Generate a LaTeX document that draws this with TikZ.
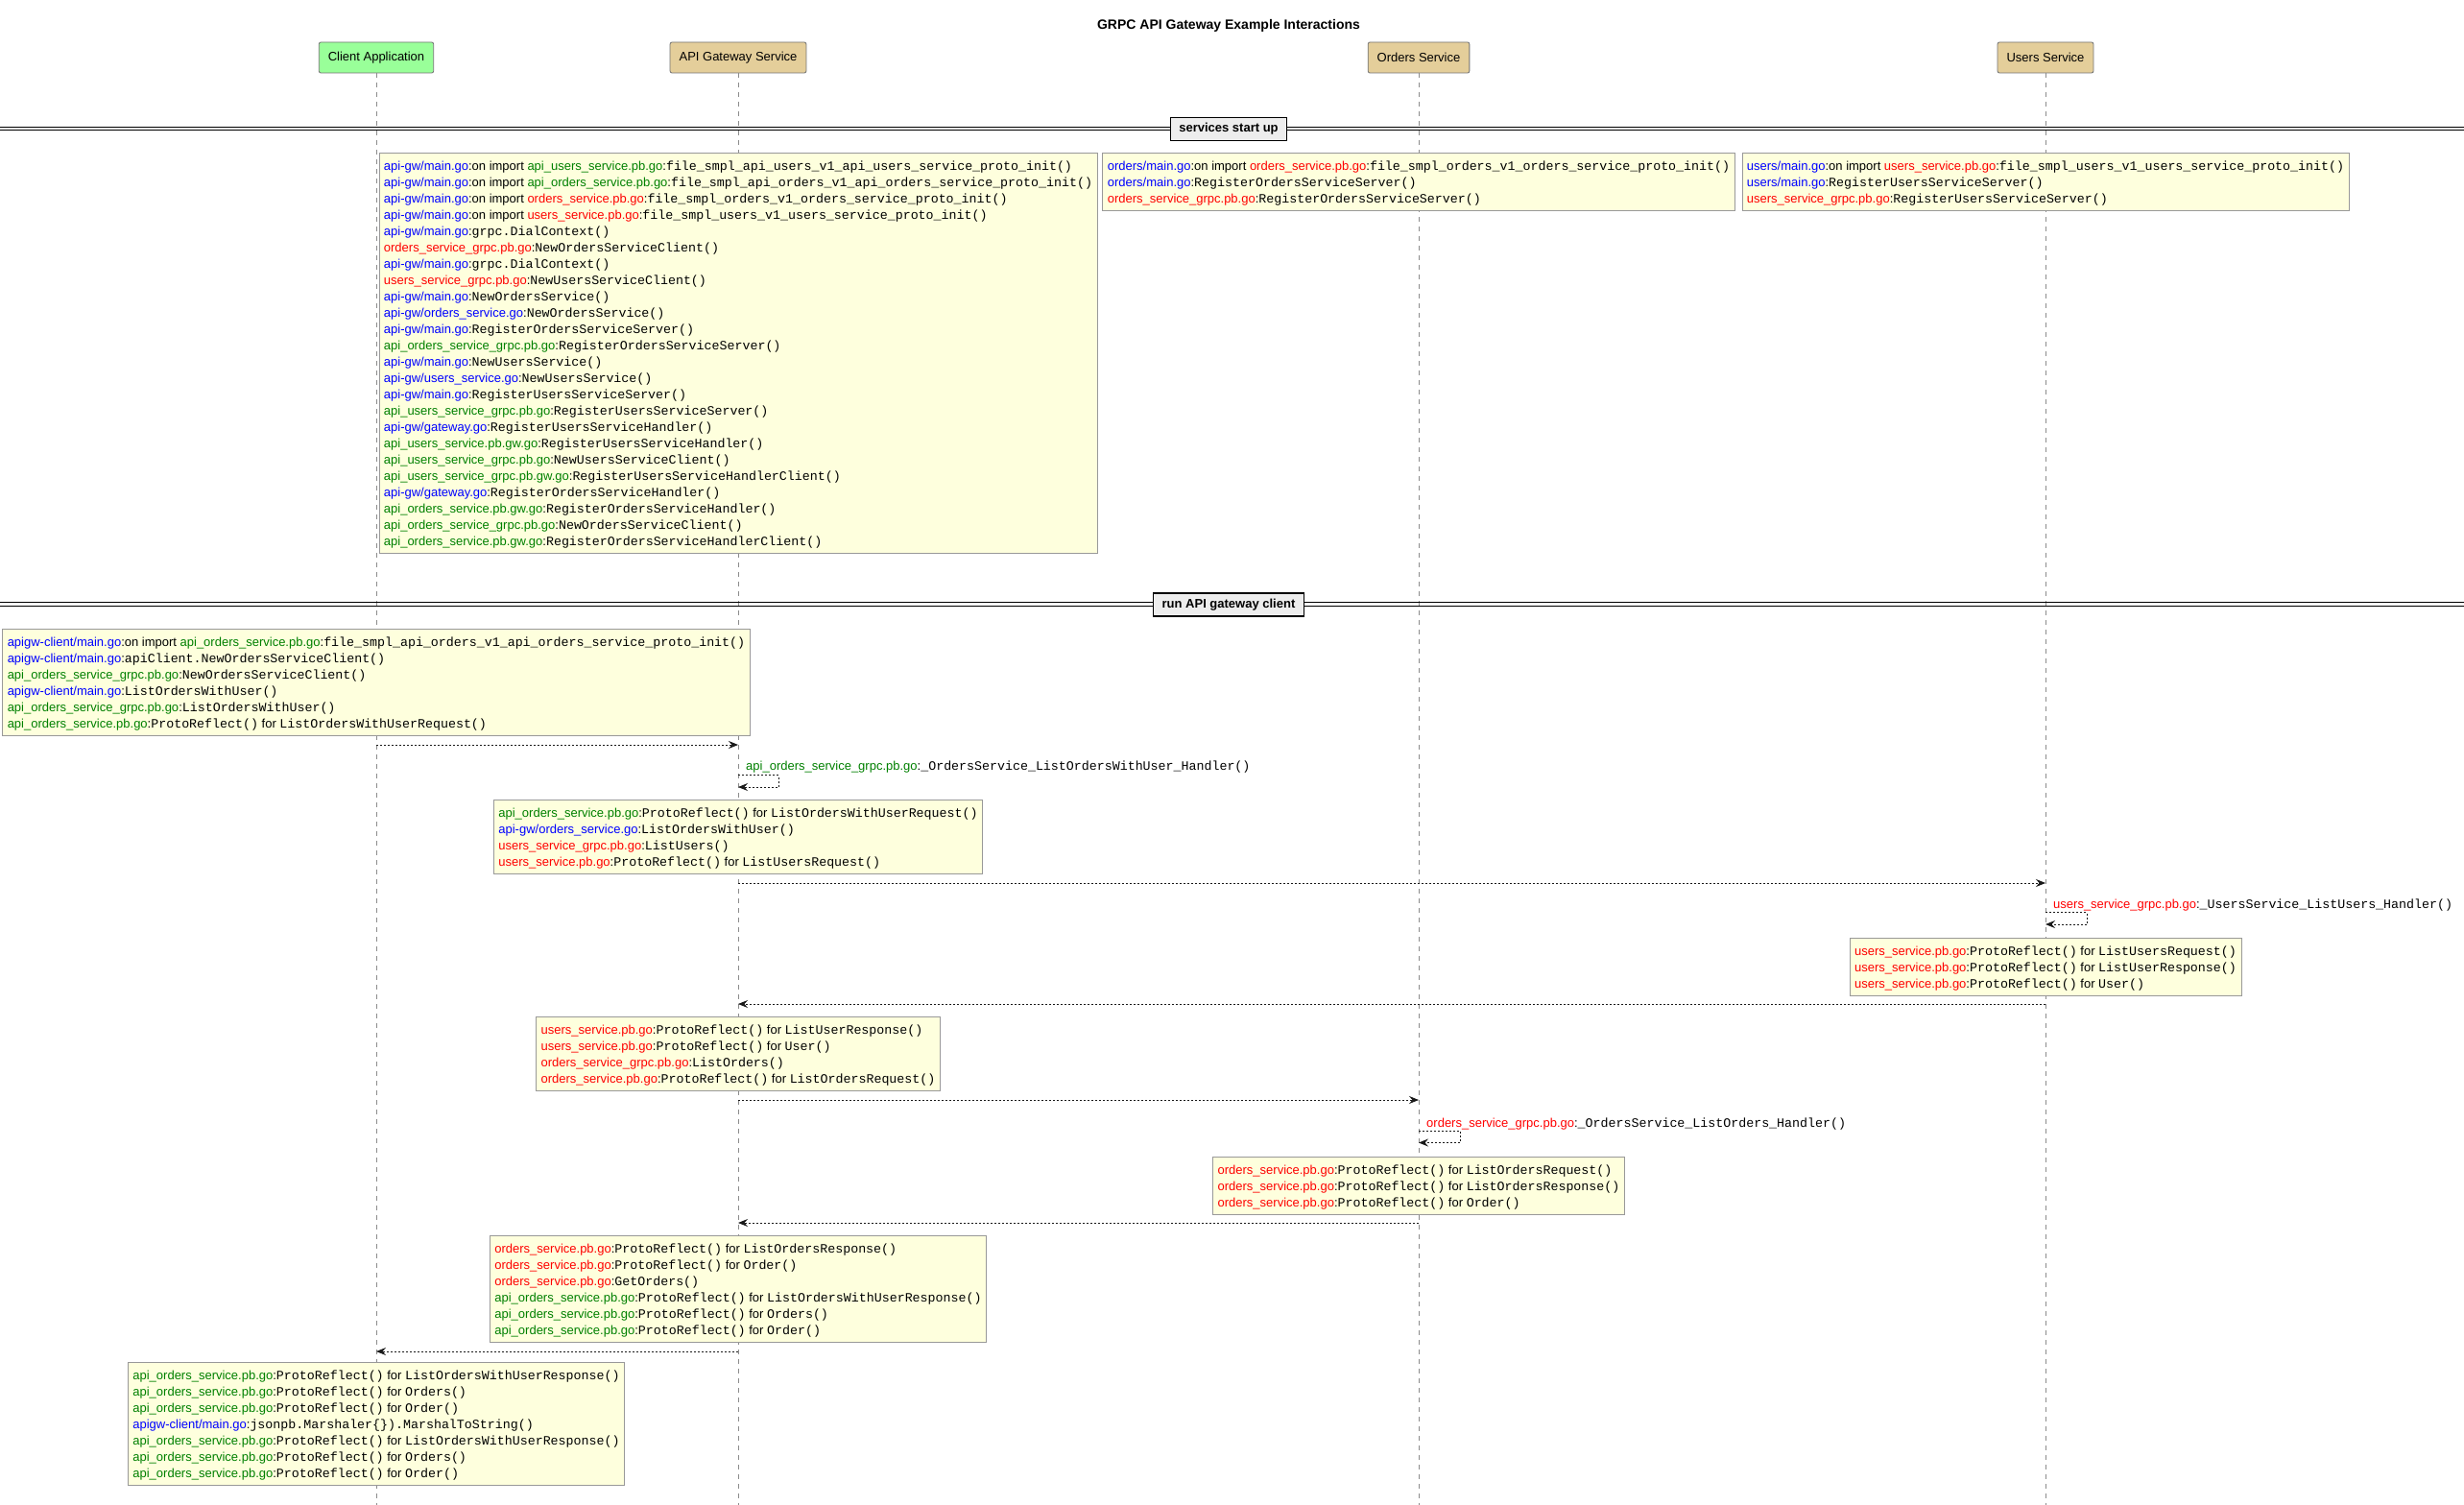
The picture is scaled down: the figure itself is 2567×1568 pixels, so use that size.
\documentclass[tikz,border=0pt]{standalone}
\usepackage{fontspec}
\setmainfont{Liberation Sans}
\setmonofont{Liberation Mono}
\usetikzlibrary{arrows.meta}

\definecolor{fblue}{HTML}{0000FF}
\definecolor{fgreen}{HTML}{008000}
\definecolor{fred}{HTML}{FF0000}
\definecolor{notefill}{HTML}{FEFFDD}
\definecolor{clientfill}{HTML}{99FF99}
\definecolor{svcfill}{HTML}{E4CE9A}

% a line strut: 17pt tall, baseline 3.1pt above its bottom
\newcommand\rowstrut{\rule[-3.1pt]{0pt}{17pt}}
% file names in colour, code in monospace
\newcommand\fB[1]{\rowstrut\textcolor{fblue}{#1}}
\newcommand\fG[1]{\rowstrut\textcolor{fgreen}{#1}}
\newcommand\fR[1]{\rowstrut\textcolor{fred}{#1}}
\newcommand\fC[1]{{\fontsize{13.3}{17}\selectfont\ttfamily #1}}

\tikzset{
  notebox/.style={draw=black!40, fill=notefill, line width=0.8pt, inner xsep=5pt,
    inner ysep=4.5pt, align=left, anchor=north, font=\fontsize{13}{17}\selectfont},
  partbox/.style={draw=black!55, line width=0.8pt, rounded corners=2pt, minimum height=32pt,
    inner xsep=9.5pt, font=\fontsize{13}{16}\selectfont},
  lifeline/.style={draw=black!45, line width=0.9pt, dash pattern=on 5pt off 5pt},
  msg/.style={draw=black!90, line width=0.9pt, dash pattern=on 2pt off 2pt,
    -{Stealth[length=10pt,width=8pt,inset=3.5pt]}},
  selflabel/.style={anchor=west, inner sep=0pt, font=\fontsize{13}{17}\selectfont},
  divbox/.style={draw=black, line width=1.3pt, fill=black!7, minimum height=24pt,
    inner xsep=9pt, font=\bfseries\fontsize{13}{16}\selectfont},
  divline/.style={draw=black, line width=0.9pt}
}

\begin{document}
\begin{tikzpicture}[x=1pt, y=-1pt]
\useasboundingbox (0,0) rectangle (2567,1568);
\fill[white] (0,0) rectangle (2567,1568);

% title
\node[font=\bfseries\fontsize{14}{17}\selectfont] (title) at (1280,27) {GRPC API Gateway Example Interactions};

% participants
\node[partbox, fill=clientfill] (client) at (392,60) {Client Application};
\node[partbox, fill=svcfill] (gw) at (769,60) {API Gateway Service};
\node[partbox, fill=svcfill] (orders) at (1478,60) {Orders Service};
\node[partbox, fill=svcfill] (users) at (2131,60) {Users Service};

\coordinate (clientEnd) at (392,1568);
\coordinate (gwEnd) at (769,1568);
\coordinate (ordersEnd) at (1478,1568);
\coordinate (usersEnd) at (2131,1568);

\draw[lifeline] (client.south) -- (clientEnd);
\draw[lifeline] (gw.south) -- (gwEnd);
\draw[lifeline] (orders.south) -- (ordersEnd);
\draw[lifeline] (users.south) -- (usersEnd);

% section dividers
\coordinate (d1l) at (0,133.8);
\coordinate (d1r) at (2567,133.8);
\draw[divline] ([yshift=-1.6pt]d1l) -- ([yshift=-1.6pt]d1r);
\draw[divline] ([yshift=1.6pt]d1l) -- ([yshift=1.6pt]d1r);
\node[divbox] (sec1) at (1280,134.3) {services start up};

\coordinate (d2l) at (0,629.5);
\coordinate (d2r) at (2567,629.5);
\draw[divline] ([yshift=-1.6pt]d2l) -- ([yshift=-1.6pt]d2r);
\draw[divline] ([yshift=1.6pt]d2l) -- ([yshift=1.6pt]d2r);
\node[divbox] (sec2) at (1280,630) {run API gateway client};

% start-up notes
\node[notebox] (nGwStart) at (769,159) {%
\fB{api-gw/main.go}:on import \fG{api\_users\_service.pb.go}:\fC{file\_smpl\_api\_users\_v1\_api\_users\_service\_proto\_init()}\\
\fB{api-gw/main.go}:on import \fG{api\_orders\_service.pb.go}:\fC{file\_smpl\_api\_orders\_v1\_api\_orders\_service\_proto\_init()}\\
\fB{api-gw/main.go}:on import \fR{orders\_service.pb.go}:\fC{file\_smpl\_orders\_v1\_orders\_service\_proto\_init()}\\
\fB{api-gw/main.go}:on import \fR{users\_service.pb.go}:\fC{file\_smpl\_users\_v1\_users\_service\_proto\_init()}\\
\fB{api-gw/main.go}:\fC{grpc.DialContext()}\\
\fR{orders\_service\_grpc.pb.go}:\fC{NewOrdersServiceClient()}\\
\fB{api-gw/main.go}:\fC{grpc.DialContext()}\\
\fR{users\_service\_grpc.pb.go}:\fC{NewUsersServiceClient()}\\
\fB{api-gw/main.go}:\fC{NewOrdersService()}\\
\fB{api-gw/orders\_service.go}:\fC{NewOrdersService()}\\
\fB{api-gw/main.go}:\fC{RegisterOrdersServiceServer()}\\
\fG{api\_orders\_service\_grpc.pb.go}:\fC{RegisterOrdersServiceServer()}\\
\fB{api-gw/main.go}:\fC{NewUsersService()}\\
\fB{api-gw/users\_service.go}:\fC{NewUsersService()}\\
\fB{api-gw/main.go}:\fC{RegisterUsersServiceServer()}\\
\fG{api\_users\_service\_grpc.pb.go}:\fC{RegisterUsersServiceServer()}\\
\fB{api-gw/gateway.go}:\fC{RegisterUsersServiceHandler()}\\
\fG{api\_users\_service.pb.gw.go}:\fC{RegisterUsersServiceHandler()}\\
\fG{api\_users\_service\_grpc.pb.go}:\fC{NewUsersServiceClient()}\\
\fG{api\_users\_service\_grpc.pb.gw.go}:\fC{RegisterUsersServiceHandlerClient()}\\
\fB{api-gw/gateway.go}:\fC{RegisterOrdersServiceHandler()}\\
\fG{api\_orders\_service.pb.gw.go}:\fC{RegisterOrdersServiceHandler()}\\
\fG{api\_orders\_service\_grpc.pb.go}:\fC{NewOrdersServiceClient()}\\
\fG{api\_orders\_service.pb.gw.go}:\fC{RegisterOrdersServiceHandlerClient()}};

\node[notebox] (nOrdersStart) at (1478,159) {%
\fB{orders/main.go}:on import \fR{orders\_service.pb.go}:\fC{file\_smpl\_orders\_v1\_orders\_service\_proto\_init()}\\
\fB{orders/main.go}:\fC{RegisterOrdersServiceServer()}\\
\fR{orders\_service\_grpc.pb.go}:\fC{RegisterOrdersServiceServer()}};

\node[notebox] (nUsersStart) at (2131,159) {%
\fB{users/main.go}:on import \fR{users\_service.pb.go}:\fC{file\_smpl\_users\_v1\_users\_service\_proto\_init()}\\
\fB{users/main.go}:\fC{RegisterUsersServiceServer()}\\
\fR{users\_service\_grpc.pb.go}:\fC{RegisterUsersServiceServer()}};

% client run
\node[notebox] (nClientStart) at (392,655) {%
\fB{apigw-client/main.go}:on import \fG{api\_orders\_service.pb.go}:\fC{file\_smpl\_api\_orders\_v1\_api\_orders\_service\_proto\_init()}\\
\fB{apigw-client/main.go}:\fC{apiClient.NewOrdersServiceClient()}\\
\fG{api\_orders\_service\_grpc.pb.go}:\fC{NewOrdersServiceClient()}\\
\fB{apigw-client/main.go}:\fC{ListOrdersWithUser()}\\
\fG{api\_orders\_service\_grpc.pb.go}:\fC{ListOrdersWithUser()}\\
\fG{api\_orders\_service.pb.go}:\fC{ProtoReflect()} for \fC{ListOrdersWithUserRequest()}};

% client -> gateway
\coordinate (m1a) at (392,776);
\coordinate (m1b) at (769,776);
\draw[msg] (m1a) -- (m1b);

% gateway handler (self call)
\coordinate (s1a) at (769,807.5);
\coordinate (s1b) at (769,820);
\draw[msg] (s1a) -- ++(42,0) |- (s1b);
\node[selflabel] (s1lab) at (777,797) {\fG{api\_orders\_service\_grpc.pb.go}:\fC{\_OrdersService\_ListOrdersWithUser\_Handler()}};

\node[notebox] (nGwReq) at (769,833) {%
\fG{api\_orders\_service.pb.go}:\fC{ProtoReflect()} for \fC{ListOrdersWithUserRequest()}\\
\fB{api-gw/orders\_service.go}:\fC{ListOrdersWithUser()}\\
\fR{users\_service\_grpc.pb.go}:\fC{ListUsers()}\\
\fR{users\_service.pb.go}:\fC{ProtoReflect()} for \fC{ListUsersRequest()}};

% gateway -> users
\coordinate (m2a) at (769,920);
\coordinate (m2b) at (2131,920);
\draw[msg] (m2a) -- (m2b);

\coordinate (s2a) at (2131,950.5);
\coordinate (s2b) at (2131,963);
\draw[msg] (s2a) -- ++(43,0) |- (s2b);
\node[selflabel] (s2lab) at (2139,941) {\fR{users\_service\_grpc.pb.go}:\fC{\_UsersService\_ListUsers\_Handler()}};

\node[notebox] (nUsersReq) at (2131,977) {%
\fR{users\_service.pb.go}:\fC{ProtoReflect()} for \fC{ListUsersRequest()}\\
\fR{users\_service.pb.go}:\fC{ProtoReflect()} for \fC{ListUserResponse()}\\
\fR{users\_service.pb.go}:\fC{ProtoReflect()} for \fC{User()}};

% users -> gateway
\coordinate (m3a) at (2131,1046);
\coordinate (m3b) at (769,1046);
\draw[msg] (m3a) -- (m3b);

\node[notebox] (nGwUsers) at (769,1059) {%
\fR{users\_service.pb.go}:\fC{ProtoReflect()} for \fC{ListUserResponse()}\\
\fR{users\_service.pb.go}:\fC{ProtoReflect()} for \fC{User()}\\
\fR{orders\_service\_grpc.pb.go}:\fC{ListOrders()}\\
\fR{orders\_service.pb.go}:\fC{ProtoReflect()} for \fC{ListOrdersRequest()}};

% gateway -> orders
\coordinate (m4a) at (769,1146);
\coordinate (m4b) at (1478,1146);
\draw[msg] (m4a) -- (m4b);

\coordinate (s3a) at (1478,1178);
\coordinate (s3b) at (1478,1190.5);
\draw[msg] (s3a) -- ++(43,0) |- (s3b);
\node[selflabel] (s3lab) at (1486,1169) {\fR{orders\_service\_grpc.pb.go}:\fC{\_OrdersService\_ListOrders\_Handler()}};

\node[notebox] (nOrdersReq) at (1478,1205) {%
\fR{orders\_service.pb.go}:\fC{ProtoReflect()} for \fC{ListOrdersRequest()}\\
\fR{orders\_service.pb.go}:\fC{ProtoReflect()} for \fC{ListOrdersResponse()}\\
\fR{orders\_service.pb.go}:\fC{ProtoReflect()} for \fC{Order()}};

% orders -> gateway
\coordinate (m5a) at (1478,1274);
\coordinate (m5b) at (769,1274);
\draw[msg] (m5a) -- (m5b);

\node[notebox] (nGwOrders) at (769,1287) {%
\fR{orders\_service.pb.go}:\fC{ProtoReflect()} for \fC{ListOrdersResponse()}\\
\fR{orders\_service.pb.go}:\fC{ProtoReflect()} for \fC{Order()}\\
\fR{orders\_service.pb.go}:\fC{GetOrders()}\\
\fG{api\_orders\_service.pb.go}:\fC{ProtoReflect()} for \fC{ListOrdersWithUserResponse()}\\
\fG{api\_orders\_service.pb.go}:\fC{ProtoReflect()} for \fC{Orders()}\\
\fG{api\_orders\_service.pb.go}:\fC{ProtoReflect()} for \fC{Order()}};

% gateway -> client
\coordinate (m6a) at (769,1408);
\coordinate (m6b) at (392,1408);
\draw[msg] (m6a) -- (m6b);

\node[notebox] (nClientResp) at (392,1419) {%
\fG{api\_orders\_service.pb.go}:\fC{ProtoReflect()} for \fC{ListOrdersWithUserResponse()}\\
\fG{api\_orders\_service.pb.go}:\fC{ProtoReflect()} for \fC{Orders()}\\
\fG{api\_orders\_service.pb.go}:\fC{ProtoReflect()} for \fC{Order()}\\
\fB{apigw-client/main.go}:\fC{jsonpb.Marshaler\{\}).MarshalToString()}\\
\fG{api\_orders\_service.pb.go}:\fC{ProtoReflect()} for \fC{ListOrdersWithUserResponse()}\\
\fG{api\_orders\_service.pb.go}:\fC{ProtoReflect()} for \fC{Orders()}\\
\fG{api\_orders\_service.pb.go}:\fC{ProtoReflect()} for \fC{Order()}};
\end{tikzpicture}
\end{document}
